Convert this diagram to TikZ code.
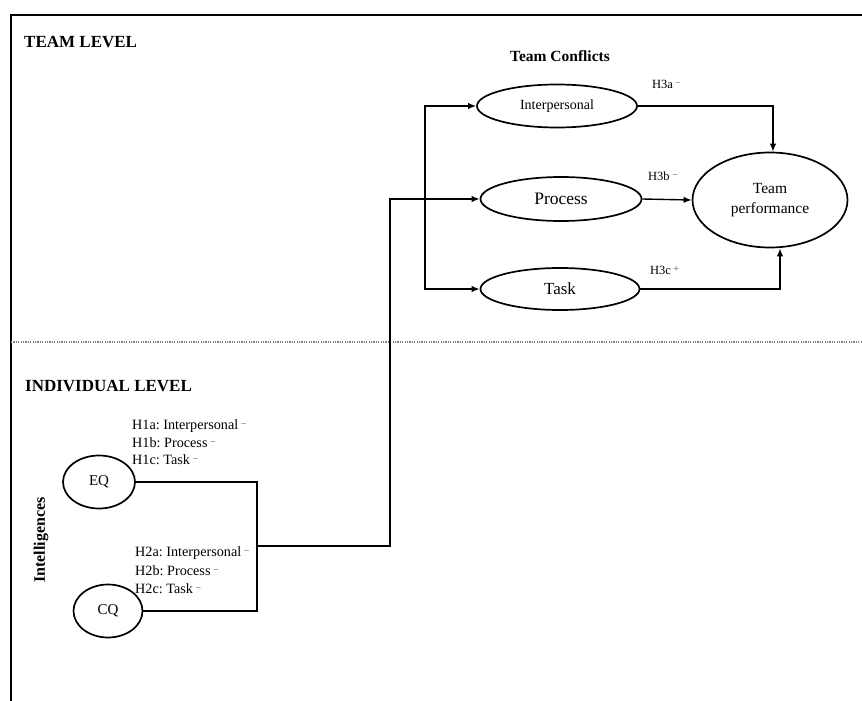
\documentclass[tikz,border=0pt]{standalone}
\usepackage{fontspec}
\setmainfont{Liberation Serif}
\usetikzlibrary{arrows.meta,shapes.geometric}
\frenchspacing
\newcommand\sgnm{\,{\fontsize{7}{7}\selectfont\raisebox{1.3ex}{$-$}}}
\newcommand\sgnp{\,{\fontsize{7}{7}\selectfont\raisebox{1.1ex}{$+$}}}
\newcommand\fsz[1]{\fontsize{#1}{#1}\selectfont}
\tikzset{
  ell/.style={ellipse, draw, line width=1.7pt, inner sep=0pt},
  conn/.style={line width=1.4pt},
  arr/.style={conn, -{Latex[length=8pt,width=6.5pt]}},
  title/.style={anchor=west, inner sep=0pt, font=\fsz{17}\bfseries},
  hyp/.style={anchor=west, inner sep=0pt, font=\fsz{14.2}},
  hthree/.style={anchor=west, inner sep=0pt, font=\fsz{12.5}}
}
\begin{document}
\begin{tikzpicture}[x=1pt,y=-1pt]
\useasboundingbox (0,0) rectangle (862,701);
% frame
\draw[line width=2.5pt] (11,701) -- (11,15) -- (862,15);
% level separator
\draw[gray, line width=1.2pt, dash pattern=on 1.2pt off 1.2pt] (11,342) -- (862,342);

% titles
\node[title] (teamlvl) at (24,42) {TEAM LEVEL};
\node[title] (indlvl) at (25,386) {INDIVIDUAL LEVEL};
\node[inner sep=0pt, font=\fsz{15.5}\bfseries] (tconf) at (560,56) {Team Conflicts};
\node[inner sep=0pt, font=\fsz{16}\bfseries, rotate=90] (intel) at (41,540) {Intelligences};

% team level ellipses
\node[ell, minimum width=160pt, minimum height=43pt, font=\fsz{14}] (interp) at (557,106) {Interpersonal};
\node[ell, minimum width=161pt, minimum height=44pt, font=\fsz{17.5}] (proc) at (561,199) {Process};
\node[ell, minimum width=159pt, minimum height=42pt, font=\fsz{17}] (task) at (560,289) {Task};
\node[ell, minimum width=155pt, minimum height=95pt, align=center, font=\fontsize{15.5}{20}\selectfont] (tp) at (770,200) {Team\\performance};

% individual level ellipses
\node[ell, minimum width=72pt, minimum height=53pt, font=\fsz{15}] (eq) at (99,482) {EQ};
\node[ell, minimum width=69pt, minimum height=53pt, font=\fsz{15}] (cq) at (108,611) {CQ};

% hypothesis labels
\node[hthree] (h3a) at (652,84) {H3a\sgnm};
\node[hthree] (h3b) at (648,176) {H3b\sgnm};
\node[hthree] (h3c) at (650,270) {H3c\sgnp};

\node[hyp] (h1a) at (132,426) {H1a: Interpersonal\sgnm};
\node[hyp] (h1b) at (132,443) {H1b: Process\sgnm};
\node[hyp] (h1c) at (132,460) {H1c: Task\sgnm};
\node[hyp] (h2a) at (135,553) {H2a: Interpersonal\sgnm};
\node[hyp] (h2b) at (135,571) {H2b: Process\sgnm};
\node[hyp] (h2c) at (135,589) {H2c: Task\sgnm};

% connectors
\coordinate (join) at (257,546);
\coordinate (rise) at (390,199);
\coordinate (split) at (425,199);
\draw[conn] (eq.east) -| (join) |- (cq.east);
\draw[arr] (join) -| (rise) -- (proc.west);
\draw[arr] (split) |- (interp.west);
\draw[arr] (split) |- (task.west);
\draw[arr] (interp.east) -| ([xshift=3pt]tp.north);
\draw[arr] (proc.east) -- (tp.west);
\draw[arr] (task.east) -| ([xshift=10pt]tp.south);
\end{tikzpicture}
\end{document}
